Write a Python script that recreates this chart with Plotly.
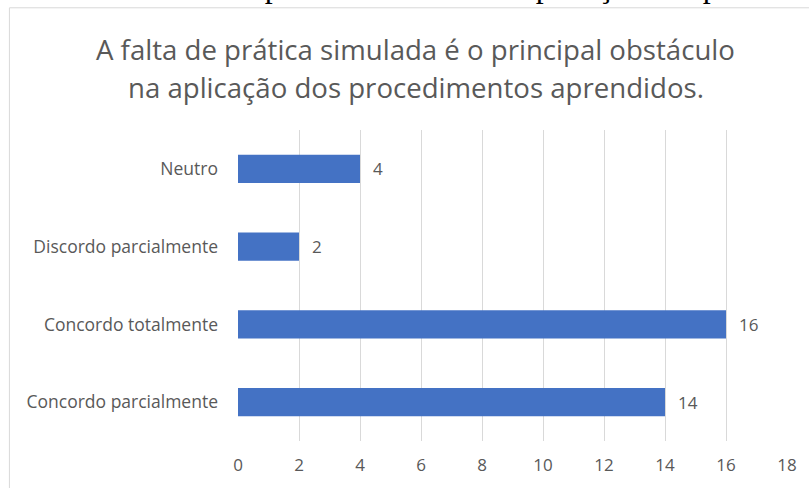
import plotly.graph_objects as go

categories = ["Concordo parcialmente", "Concordo totalmente", "Discordo parcialmente", "Neutro"]
values = [14, 16, 2, 4]
x_ticks = [0, 2, 4, 6, 8, 10, 12, 14, 16, 18]
title_lines = ["A falta de prática simulada é o principal obstáculo",
               "na aplicação dos procedimentos aprendidos."]
caption = "Gráfico 9: Falta de prática simulada na aplicação dos procedimentos aprendidos"

W, H = 809, 488
L, R, T, B = 238, 21, 130, 45
pw, ph = W - L - R, H - T - B
FONT = "Open Sans"
GREY = "#595959"

def px(xp):
    return (xp - L) / pw

def py(yp):
    return (H - B - yp) / ph

fig = go.Figure()
fig.add_trace(go.Bar(
    y=categories, x=values, orientation="h",
    marker=dict(color="#4472C4", line=dict(width=0)),
    width=0.363, hoverinfo="skip",
))

for c, v in zip(categories, values):
    fig.add_annotation(x=v, y=c, xref="x", yref="y", text=str(v), showarrow=False,
                       xanchor="left", xshift=11,
                       font=dict(family=FONT, size=17, color=GREY))

for i, line in enumerate(title_lines):
    fig.add_annotation(x=px(416), y=py(48 + 39 * i), xref="paper", yref="paper",
                       text=line, showarrow=False, xanchor="center", yanchor="middle",
                       font=dict(family=FONT, size=27.6, color=GREY))

fig.add_annotation(x=px(14), y=py(5.5), xref="paper", yref="paper", text=caption,
                   showarrow=False, xanchor="left", yanchor="bottom",
                   font=dict(family="Liberation Serif", size=32, color="#000000"))

fig.add_shape(type="rect", xref="paper", yref="paper",
              x0=px(9), x1=px(830), y0=py(7), y1=py(520),
              line=dict(color="#d9d9d9", width=1), fillcolor="rgba(0,0,0,0)", layer="below")

fig.update_layout(
    width=W, height=H,
    margin=dict(l=L, r=R, t=T, b=B, pad=0),
    paper_bgcolor="white", plot_bgcolor="white",
    showlegend=False,
    xaxis=dict(range=[0, 18], tickvals=x_ticks, showgrid=True, gridcolor="#d9d9d9",
               gridwidth=1, zeroline=False, showline=False, ticks="",
               tickfont=dict(family=FONT, size=17, color=GREY), ticklabelstandoff=12),
    yaxis=dict(categoryorder="array", categoryarray=categories, showgrid=False,
               zeroline=False, showline=False, ticks="",
               tickfont=dict(family=FONT, size=17.5, color=GREY), ticklabelstandoff=19),
)

fig.write_html("out.html", config={"displayModeBar": False},
               post_script="document.body.style.margin='0';document.body.style.overflow='hidden';")
